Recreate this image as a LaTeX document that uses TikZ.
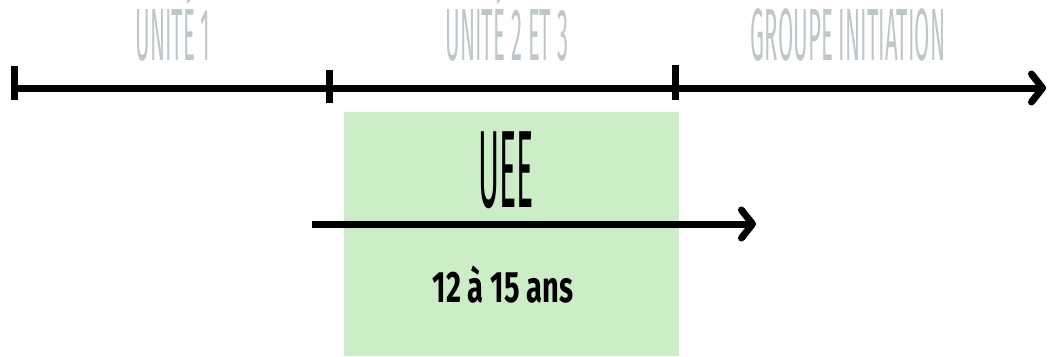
\documentclass[tikz,border=0pt]{standalone}
\usepackage{fontspec}
\usetikzlibrary{arrows.meta}
\newfontfamily\condfont[FakeStretch=0.3]{Fira Sans}
\newfontfamily\ueefont[FakeStretch=0.29]{Fira Sans}
\newfontfamily\agefont[FakeStretch=0.66]{Fira Sans}
\definecolor{unitgray}{HTML}{BFC8C4}
\definecolor{ueegreen}{HTML}{CDEDC9}
\tikzset{
  unit/.style={text=unitgray, font=\condfont\fontsize{74}{74}\selectfont, inner sep=0, anchor=base},
  timeline/.style={line width=7pt, -{Straight Barb[length=11pt,width=28pt,round]}},
  tick/.style={line width=7pt},
}
\begin{document}
\begin{tikzpicture}[x=1pt, y=-1pt]
    \useasboundingbox (0,0) rectangle (1051,356);

    \fill[ueegreen] (344,112) rectangle (679,356);

    \node[unit] (u1) at (173,60) {UNITÉ 1};
    \node[unit] (u2) at (507,60) {UNITÉ 2 ET 3};
    \node[unit] (gi) at (848,60) {GROUPE INITIATION};

    \coordinate (start) at (14,88);
    \coordinate (end) at (1046,88);
    \coordinate (t1a) at (14,66);   \coordinate (t1b) at (14,100);
    \coordinate (t2a) at (329,70);  \coordinate (t2b) at (329,103);
    \coordinate (t3a) at (675,65);  \coordinate (t3b) at (675,100);

    \draw[timeline] (start) -- (end);
    \draw[tick] (t1a) -- (t1b);
    \draw[tick] (t2a) -- (t2b);
    \draw[tick] (t3a) -- (t3b);

    \node[font=\ueefont\fontsize{110}{110}\selectfont, inner sep=0, anchor=base] (uee) at (506,207) {UEE};
    \coordinate (ueestart) at (312,224);
    \coordinate (ueeend) at (756,224);
    \draw[timeline] (ueestart) -- (ueeend);

    \node[font=\agefont\bfseries\fontsize{44}{44}\selectfont, inner sep=0, anchor=base] (age) at (503,302) {12 à 15 ans};

\end{tikzpicture}
\end{document}
